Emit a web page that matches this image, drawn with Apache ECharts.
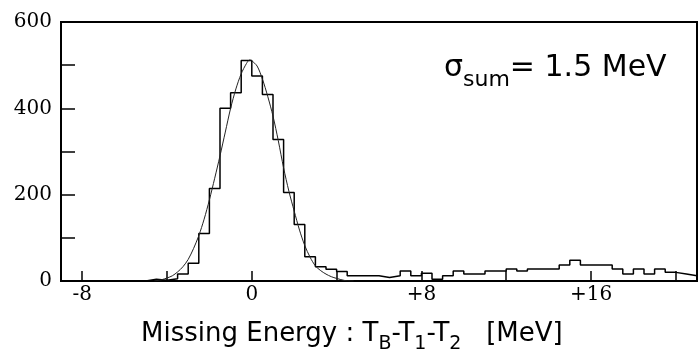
<!DOCTYPE html>
<html><head><meta charset="utf-8">
<script src="https://cdn.jsdelivr.net/npm/echarts@6/dist/echarts.min.js"></script>
<style>html,body{margin:0;padding:0;background:#fff}#c{width:700px;height:354px}</style>
</head><body><div id="c"></div>
<script>
// Histogram: bins of width 0.5 MeV starting at -5 MeV
const binStart = -5.0;
const binWidth = 0.5;
const counts = [
  4, 2, 5, 16, 41, 110, 214, 400, 436, 511,
  475, 432, 328, 205, 131, 56, 33, 27, 22, 12,
  12, 12, 8, 12, 23, 12, 18, 4, 12, 23,
  16, 16, 23, 23, 28, 23, 28, 28, 28, 37,
  48, 37, 37, 37, 28, 16, 28, 16, 28, 20,
  16, 12
];
// Fitted curve
const fitX = [-4.6, -4.25, -4.0, -3.75, -3.5, -3.25, -3.0, -2.75, -2.5, -2.25,
  -2.0, -1.75, -1.5, -1.25, -1.0, -0.75, -0.5, -0.25, -0.1, 0.0,
  0.25, 0.5, 0.75, 1.0, 1.25, 1.5, 1.75, 2.0, 2.25, 2.5,
  2.75, 3.0, 3.25, 3.5, 3.75, 4.0, 4.4, 4.8];
const fitY = [0, 3, 7, 12, 21, 33, 50, 75, 105, 143,
  188, 238, 290, 345, 400, 445, 480, 504, 512, 510,
  498, 468, 428, 382, 325, 262, 208, 162, 118, 82,
  55, 35, 24, 16, 10, 6, 1, 0];
const xTicks = [-8, -4, 0, 4, 8, 12, 16, 20];
const xLabels = [-8, 0, 8, 16];
const yLabels = [0, 200, 400, 600];

const histData = [[binStart, 0]].concat(counts.map((c, i) => [binStart + i * binWidth, c]));
histData.push([binStart + counts.length * binWidth, counts[counts.length - 1]]);
const fitData = fitX.map((x, i) => [x, fitY[i]]);

const chart = echarts.init(document.getElementById('c'), null, {renderer: 'canvas'});
chart.setOption({
  animation: false,
  backgroundColor: '#fff',
  grid: {left: 61, right: 3, top: 22, bottom: 73, show: true, borderColor: '#000', borderWidth: 2, backgroundColor: 'transparent'},
  xAxis: {
    type: 'value', min: -9, max: 21,
    axisLine: {show: true, onZero: false, lineStyle: {color: '#000', width: 2}},
    axisTick: {show: true, inside: true, length: 10, lineStyle: {color: '#000', width: 1.5}, customValues: xTicks},
    axisLabel: {show: true, customValues: xLabels, margin: 4, color: '#000', fontFamily: 'DejaVu Serif', fontSize: 20,
      formatter: v => (v > 0 ? '+' + v : String(v))},
    splitLine: {show: false}
  },
  yAxis: {
    type: 'value', min: 0, max: 600, interval: 100,
    axisLine: {show: true, onZero: false, lineStyle: {color: '#000', width: 2}},
    axisTick: {show: true, inside: true, length: 14, lineStyle: {color: '#000', width: 1.5}},
    axisLabel: {show: true, margin: 9, color: '#000', fontFamily: 'DejaVu Serif', fontSize: 20,
      formatter: v => (yLabels.indexOf(v) >= 0 ? String(v) : '')},
    splitLine: {show: false}
  },
  graphic: [
    {type: 'text', left: 141, top: 321, z: 10,
      style: {
        text: '{a|Missing Energy : T}{s|B}{a|-T}{s|1}{a|-T}{s|2}{a|   [MeV]}',
        rich: {
          a: {fontFamily: 'DejaVu Sans', fontSize: 26, lineHeight: 26, verticalAlign: 'top', fill: '#000'},
          s: {fontFamily: 'DejaVu Sans', fontSize: 19, lineHeight: 19, padding: [14, 0, 0, 0], verticalAlign: 'top', fill: '#000'}
        }
      }},
    {type: 'text', left: 444, top: 53, z: 10,
      style: {
        text: '{a|σ}{s|sum}{a|= 1.5 MeV}',
        rich: {
          a: {fontFamily: 'DejaVu Sans', fontSize: 30, lineHeight: 30, verticalAlign: 'top', fill: '#000'},
          s: {fontFamily: 'DejaVu Sans', fontSize: 22, lineHeight: 22, padding: [16, 0, 0, 0], verticalAlign: 'top', fill: '#000'}
        }
      }}
  ],
  series: [
    {type: 'line', data: histData, step: 'end', showSymbol: false, symbol: 'none',
      lineStyle: {color: '#000', width: 1.5}, z: 3},
    {type: 'line', data: fitData, smooth: 0.3, showSymbol: false, symbol: 'none',
      lineStyle: {color: '#222', width: 1}, z: 4}
  ]
});
</script>
</body></html>
